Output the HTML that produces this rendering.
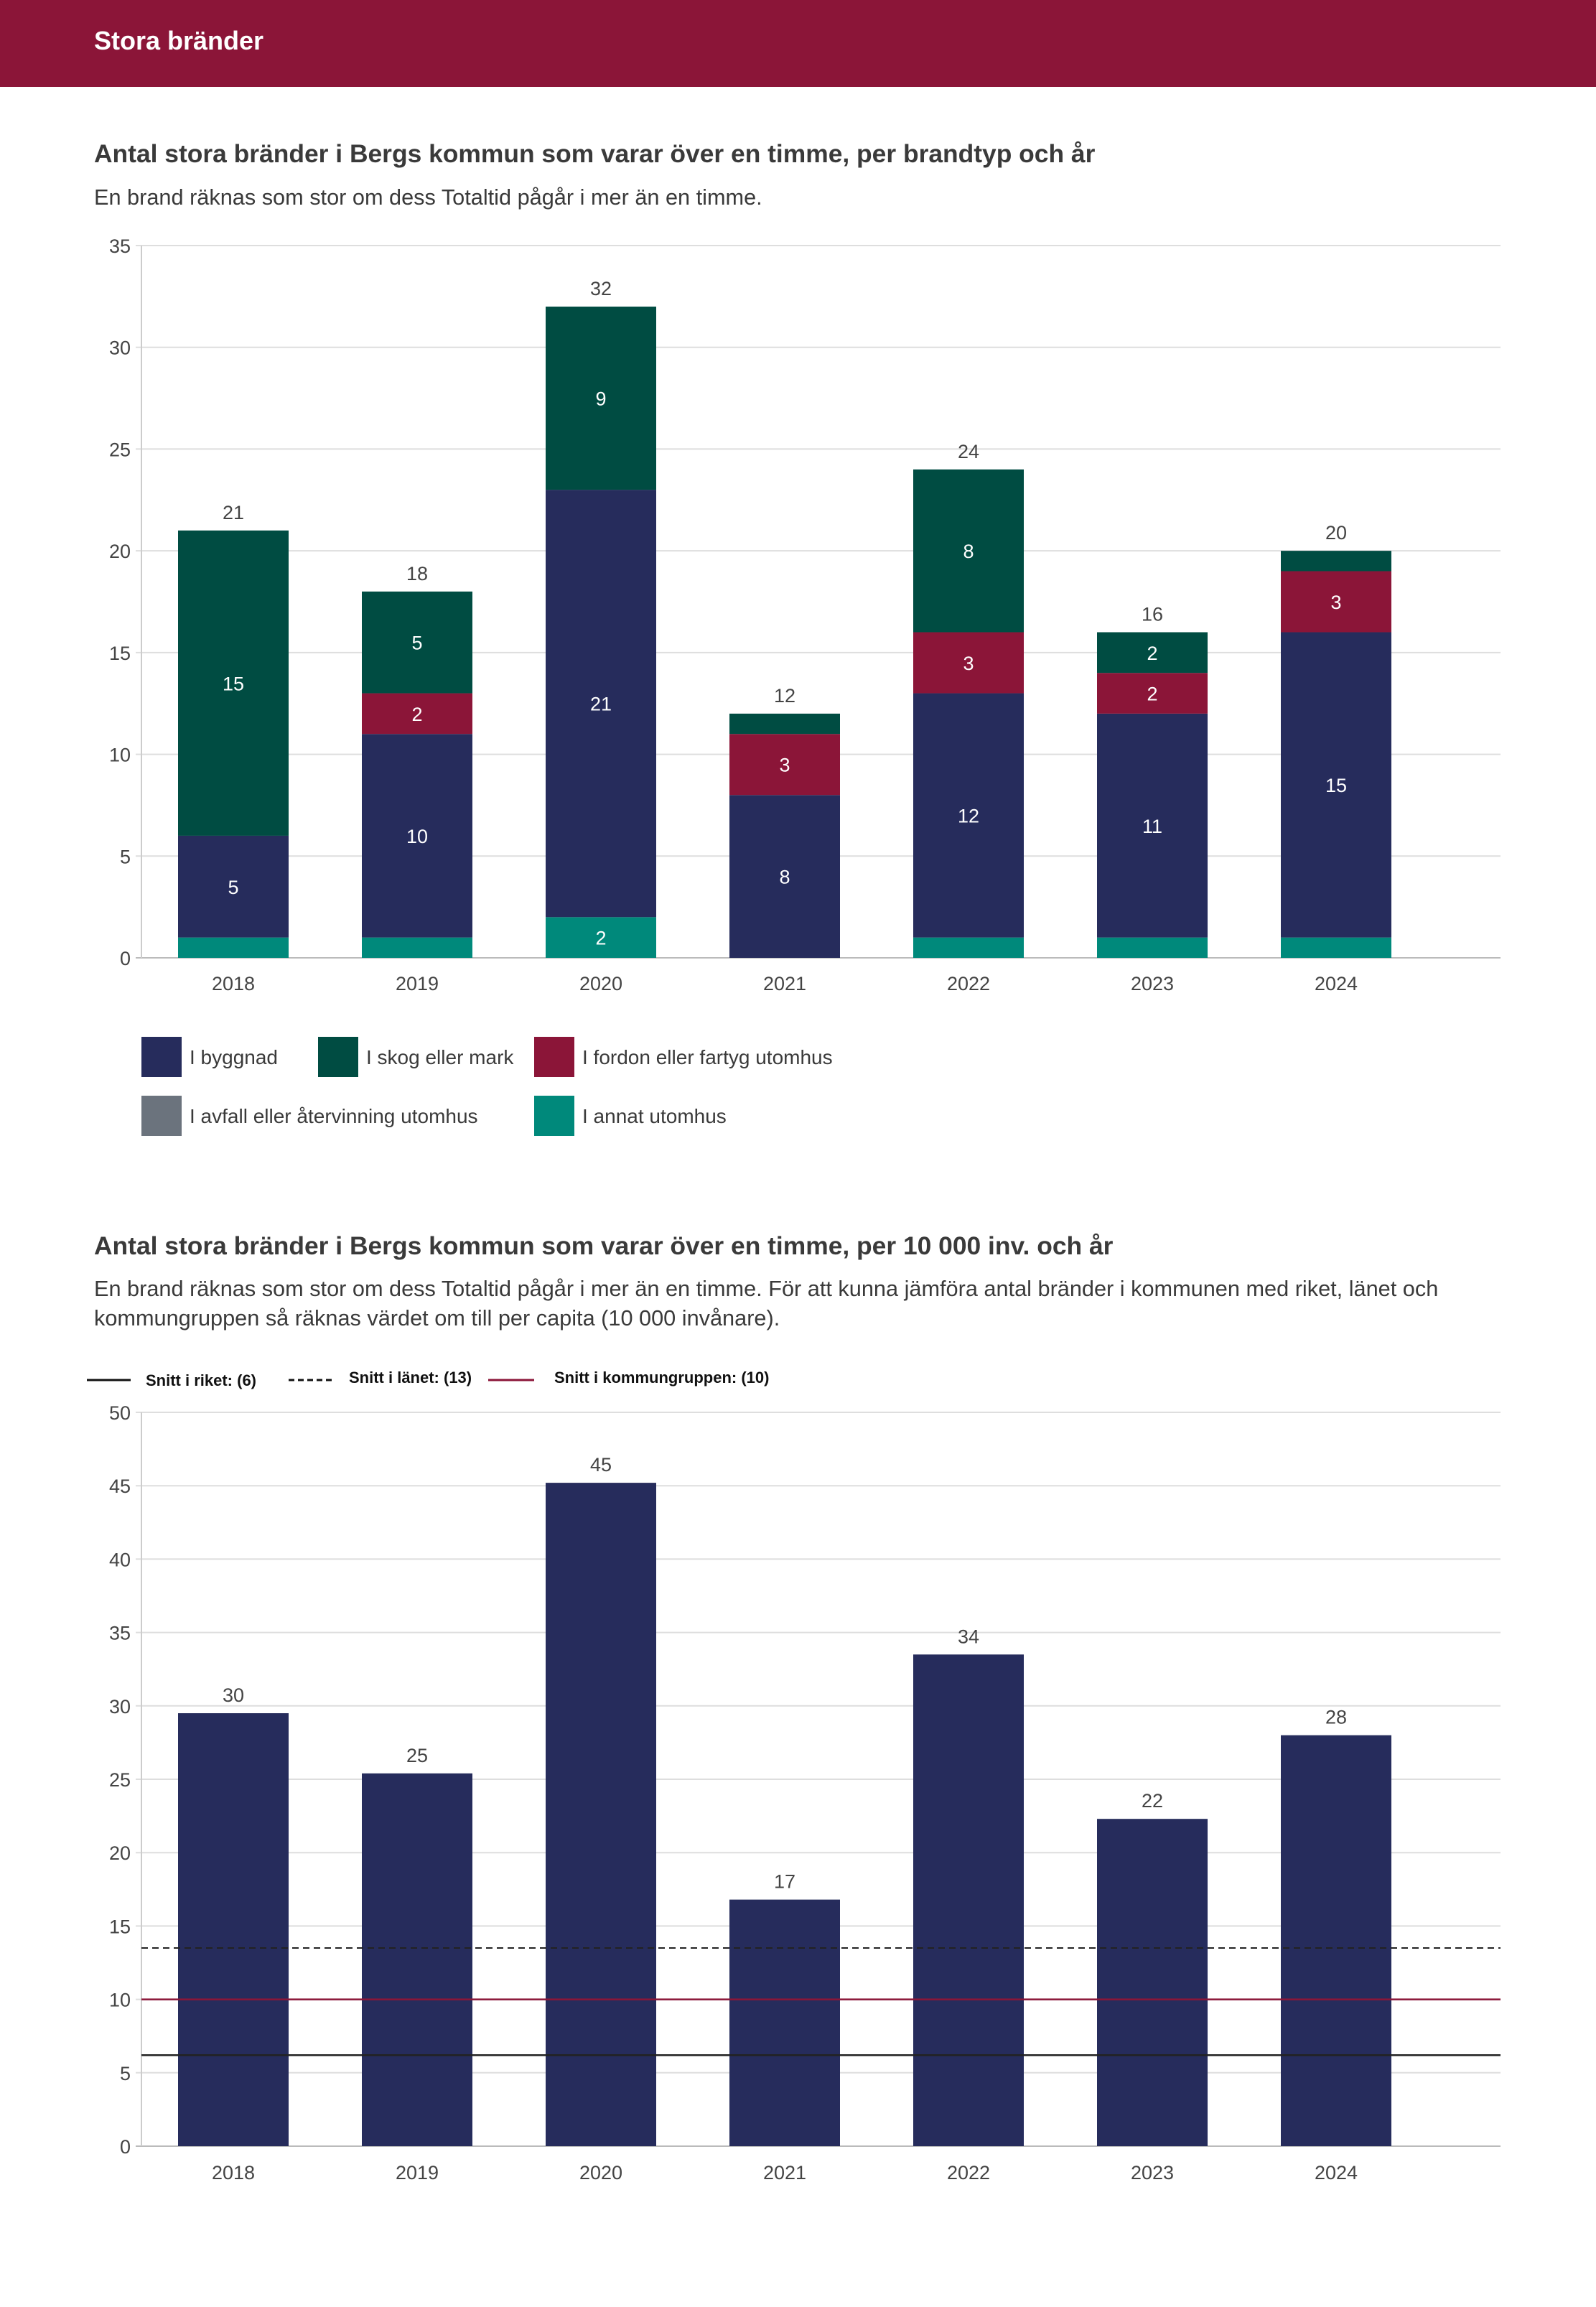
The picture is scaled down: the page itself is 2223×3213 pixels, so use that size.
<!DOCTYPE html>
<html><head><meta charset="utf-8"><style>
html,body{margin:0;padding:0;background:#fff;}
svg{display:block;font-family:"Liberation Sans",sans-serif;}
</style></head><body>
<svg id="page" width="2223" height="3213" viewBox="0 0 2223 3213" xmlns="http://www.w3.org/2000/svg">
<rect x="0" y="0" width="2223" height="121" fill="#8b1538"/>
<text x="131" y="69" font-size="36" font-weight="bold" fill="#fff">Stora bränder</text>

<text x="131" y="226" font-size="35.4" font-weight="bold" fill="#3a3a3a">Antal stora bränder i Bergs kommun som varar över en timme, per brandtyp och år</text>
<text x="131" y="285" font-size="30.7" fill="#3a3a3a">En brand räknas som stor om dess Totaltid pågår i mer än en timme.</text>
<g id="c1"></g>

<g font-size="28" fill="#3a3a3a">
<rect x="197" y="1444" width="56" height="56" fill="#262c5c"/>
<text x="264" y="1482">I byggnad</text>
<rect x="443" y="1444" width="56" height="56" fill="#004c42"/>
<text x="510" y="1482">I skog eller mark</text>
<rect x="744" y="1444" width="56" height="56" fill="#8b1538"/>
<text x="811" y="1482">I fordon eller fartyg utomhus</text>
<rect x="197" y="1526" width="56" height="56" fill="#6b737d"/>
<text x="264" y="1564">I avfall eller återvinning utomhus</text>
<rect x="744" y="1526" width="56" height="56" fill="#00897b"/>
<text x="811" y="1564">I annat utomhus</text>
</g>

<text x="131" y="1747" font-size="35.4" font-weight="bold" fill="#3a3a3a">Antal stora bränder i Bergs kommun som varar över en timme, per 10 000 inv. och år</text>
<text x="131" y="1805" font-size="30.7" fill="#3a3a3a">En brand räknas som stor om dess Totaltid pågår i mer än en timme. För att kunna jämföra antal bränder i kommunen med riket, länet och</text>
<text x="131" y="1846" font-size="30.7" fill="#3a3a3a">kommungruppen så räknas värdet om till per capita (10 000 invånare).</text>

<g font-size="22" font-weight="bold" fill="#111">
<line x1="121" y1="1922" x2="182" y2="1922" stroke="#111" stroke-width="3"/>
<text x="203" y="1930">Snitt i riket: (6)</text>
<line x1="402" y1="1922" x2="465" y2="1922" stroke="#111" stroke-width="3" stroke-dasharray="8,5"/>
<text x="486" y="1926">Snitt i länet: (13)</text>
<line x1="680" y1="1922" x2="744" y2="1922" stroke="#8b1538" stroke-width="3"/>
<text x="772" y="1926">Snitt i kommungruppen: (10)</text>
</g>
<g id="c2"></g>
</svg>
<script>
const years = ["2018","2019","2020","2021","2022","2023","2024"];
const annat = [1,1,2,0,1,1,1];
const byggnad = [5,10,21,8,12,11,15];
const fordon = [0,2,0,3,3,2,3];
const skog = [15,5,9,1,8,2,1];
const ticks1 = [0,5,10,15,20,25,30,35];

const perCapita = [29.5,25.4,45.2,16.8,33.5,22.3,28];
const perCapitaLabels = ["30","25","45","17","34","22","28"];
const ticks2 = [0,5,10,15,20,25,30,35,40,45,50];
const avgRiket = 6.2;
const avgLanet = 13.5;
const avgKommungrupp = 10;

const NS="http://www.w3.org/2000/svg";
function mk(parent,tag,attrs,txt){const e=document.createElementNS(NS,tag);for(const k in attrs)e.setAttribute(k,attrs[k]);if(txt!==undefined)e.textContent=txt;parent.appendChild(e);return e;}
const X0=197, X1=2090, BAND=256, BW=154;
function xc(i){return X0+BAND/2+BAND*i;}

// chart 1
(function(){
 const g=document.getElementById('c1');
 const top=342, bot=1334, max=35;
 const y=v=>bot-(v/max)*(bot-top);
 ticks1.forEach(t=>{
  const l=mk(g,'line',{x1:X0-8,x2:X1,y1:y(t),y2:y(t),stroke:t===0?'#bbb':'#dedede','stroke-width':2});
  
  
  const tx=mk(g,'text',{x:182,y:y(t)+10,'text-anchor':'end','font-size':27,fill:'#444'},t);
  
  
 });
 const ax=mk(g,'line',{x1:X0,x2:X0,y1:top,y2:bot,stroke:'#ccc','stroke-width':2});
 
 
 const series=[['annat',annat,'#00897b'],['byggnad',byggnad,'#262c5c'],['fordon',fordon,'#8b1538'],['skog',skog,'#004c42']];
 years.forEach((yr,i)=>{
  let acc=0;
  series.forEach(([nm,arr,col])=>{
   const v=arr[i]; if(!v) return;
   const r=mk(g,'rect',{x:xc(i)-BW/2,y:y(acc+v),width:BW,height:y(acc)-y(acc+v),fill:col});
   
   
   if(v>=2){
    const t=mk(g,'text',{x:xc(i),y:(y(acc)+y(acc+v))/2+10,'text-anchor':'middle','font-size':27,fill:'#fff'},v);
    
    
   }
   acc+=v;
  });
  const tt=mk(g,'text',{x:xc(i),y:y(acc)-16,'text-anchor':'middle','font-size':27,fill:'#444'},acc);
  
  
  const xl=mk(g,'text',{x:xc(i),y:1379,'text-anchor':'middle','font-size':27,fill:'#444'},yr);
  
  
 });
})();

// chart 2
(function(){
 const g=document.getElementById('c2');
 const top=1967, bot=2989, max=50;
 const y=v=>bot-(v/max)*(bot-top);
 ticks2.forEach(t=>{
  const l=mk(g,'line',{x1:X0-8,x2:X1,y1:y(t),y2:y(t),stroke:t===0?'#bbb':'#dedede','stroke-width':2});
  
  
  const tx=mk(g,'text',{x:182,y:y(t)+10,'text-anchor':'end','font-size':27,fill:'#444'},t);
  
  
 });
 const ax=mk(g,'line',{x1:X0,x2:X0,y1:top,y2:bot,stroke:'#ccc','stroke-width':2});
 
 
 years.forEach((yr,i)=>{
  const v=perCapita[i];
  const r=mk(g,'rect',{x:xc(i)-BW/2,y:y(v),width:BW,height:bot-y(v),fill:'#262c5c'});
  
  
  const t=mk(g,'text',{x:xc(i),y:y(v)-16,'text-anchor':'middle','font-size':27,fill:'#444'},perCapitaLabels[i]);
  
  
  const xl=mk(g,'text',{x:xc(i),y:3035,'text-anchor':'middle','font-size':27,fill:'#444'},yr);
  
  
 });
 const l1=mk(g,'line',{x1:X0,x2:X1,y1:y(avgRiket),y2:y(avgRiket),stroke:'#222','stroke-width':2.5});
 
 
 const l2=mk(g,'line',{x1:X0,x2:X1,y1:y(avgLanet),y2:y(avgLanet),stroke:'#222','stroke-width':2,'stroke-dasharray':'9,6'});
 
 
 const l3=mk(g,'line',{x1:X0,x2:X1,y1:y(avgKommungrupp),y2:y(avgKommungrupp),stroke:'#8b1538','stroke-width':2.5});
 
 
})();
</script>
</body></html>
